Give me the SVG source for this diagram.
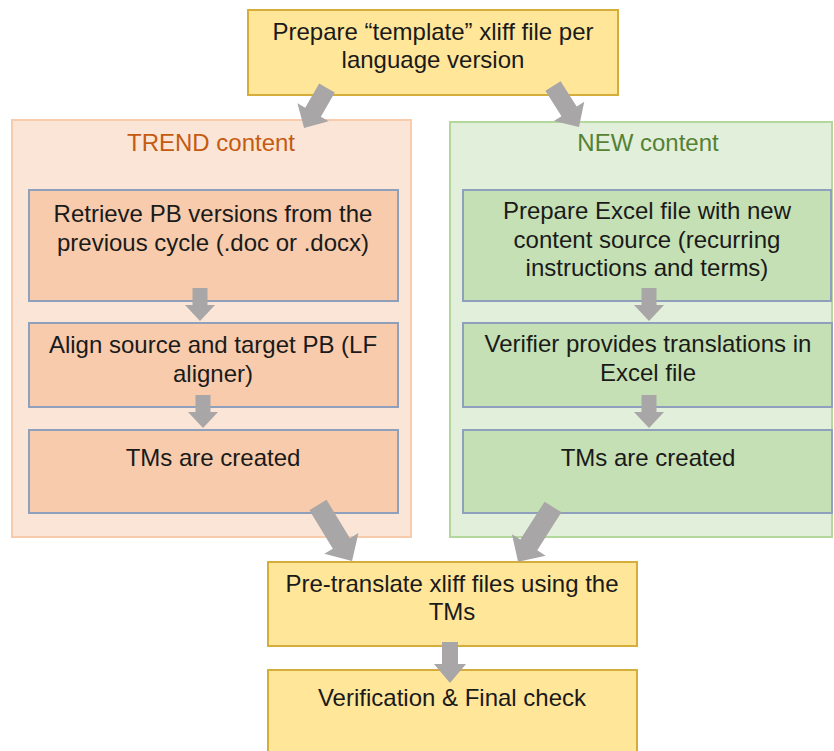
<svg xmlns="http://www.w3.org/2000/svg" width="834" height="751" viewBox="0 0 834 751">
<style>
text{font-family:"Liberation Sans",Arial,sans-serif;font-size:24px;fill:#1a1a1a;text-anchor:middle}
.yel{fill:#ffe699;stroke:#d4ad3a;stroke-width:2}
.ocont{fill:#fbe5d6;stroke:#f8cbad;stroke-width:2}
.gcont{fill:#e2efda;stroke:#b4d79c;stroke-width:2}
.obox{fill:#f7cbab;stroke:#8ea0bb;stroke-width:2}
.gbox{fill:#c5e0b4;stroke:#8ea0bb;stroke-width:2}
.arr{fill:#a8a6a6}
.ot{fill:#c55a11}
.gt{fill:#548235}
</style>
<defs>
<path id="sa" d="M-7.5,0H7.5V17H15L0,33L-15,17H-7.5Z"/>
</defs>
<g id="template"><rect class="yel" x="248" y="10" width="370" height="85"/><text x="433" y="40">Prepare “template” xliff file per</text><text x="433" y="68">language version</text></g>
<g id="trend"><rect class="ocont" x="12" y="120" width="399" height="417"/><text class="ot" x="211" y="151">TREND content</text></g>
<g id="new"><rect class="gcont" x="450" y="122" width="382" height="415"/><text class="gt" x="648" y="151">NEW content</text></g>
<g id="retrieve"><rect class="obox" x="29" y="190" width="369" height="111"/><text x="213" y="222">Retrieve PB versions from the</text><text x="213" y="251">previous cycle (.doc or .docx)</text></g>
<g id="align"><rect class="obox" x="29" y="323" width="369" height="84"/><text x="213" y="353">Align source and target PB (LF</text><text x="213" y="382">aligner)</text></g>
<g id="tms-trend"><rect class="obox" x="29" y="430" width="369" height="83"/><text x="213" y="466">TMs are created</text></g>
<g id="excel"><rect class="gbox" x="463" y="190" width="368" height="111"/><text x="647" y="219">Prepare Excel file with new</text><text x="647" y="248">content source (recurring</text><text x="647" y="276">instructions and terms)</text></g>
<g id="verifier"><rect class="gbox" x="463" y="323" width="369" height="84"/><text x="648" y="352">Verifier provides translations in</text><text x="648" y="381">Excel file</text></g>
<g id="tms-new"><rect class="gbox" x="463" y="430" width="369" height="83"/><text x="648" y="466">TMs are created</text></g>
<g id="pretranslate"><rect class="yel" x="268" y="562" width="369" height="84"/><text x="452" y="592">Pre-translate xliff files using the</text><text x="452" y="620">TMs</text></g>
<g id="final"><rect class="yel" x="268" y="670" width="369" height="90"/><text x="452" y="706">Verification &amp; Final check</text></g>
<g id="connectors" class="arr">
<path d="M-9,0H9V28H18L0,46L-18,28H-9Z" transform="translate(327,88) rotate(29.9)"/>
<path d="M-9,0H9V30H18L0,48.5L-18,30H-9Z" transform="translate(553,86) rotate(-32.4)"/>
<use href="#sa" transform="translate(200,288)"/>
<use href="#sa" transform="translate(203,395)"/>
<use href="#sa" transform="translate(649,288)"/>
<use href="#sa" transform="translate(649,395)"/>
<path d="M-10,0H10V45H20L0,65.5L-20,45H-10Z" transform="translate(318,505) rotate(-31.3)"/>
<path d="M-10,0H10V45H20L0,65L-20,45H-10Z" transform="translate(553,507) rotate(32.5)"/>
<path d="M-8,0H8V22H16L0,41L-16,22H-8Z" transform="translate(450,642)"/>
</g>
</svg>
